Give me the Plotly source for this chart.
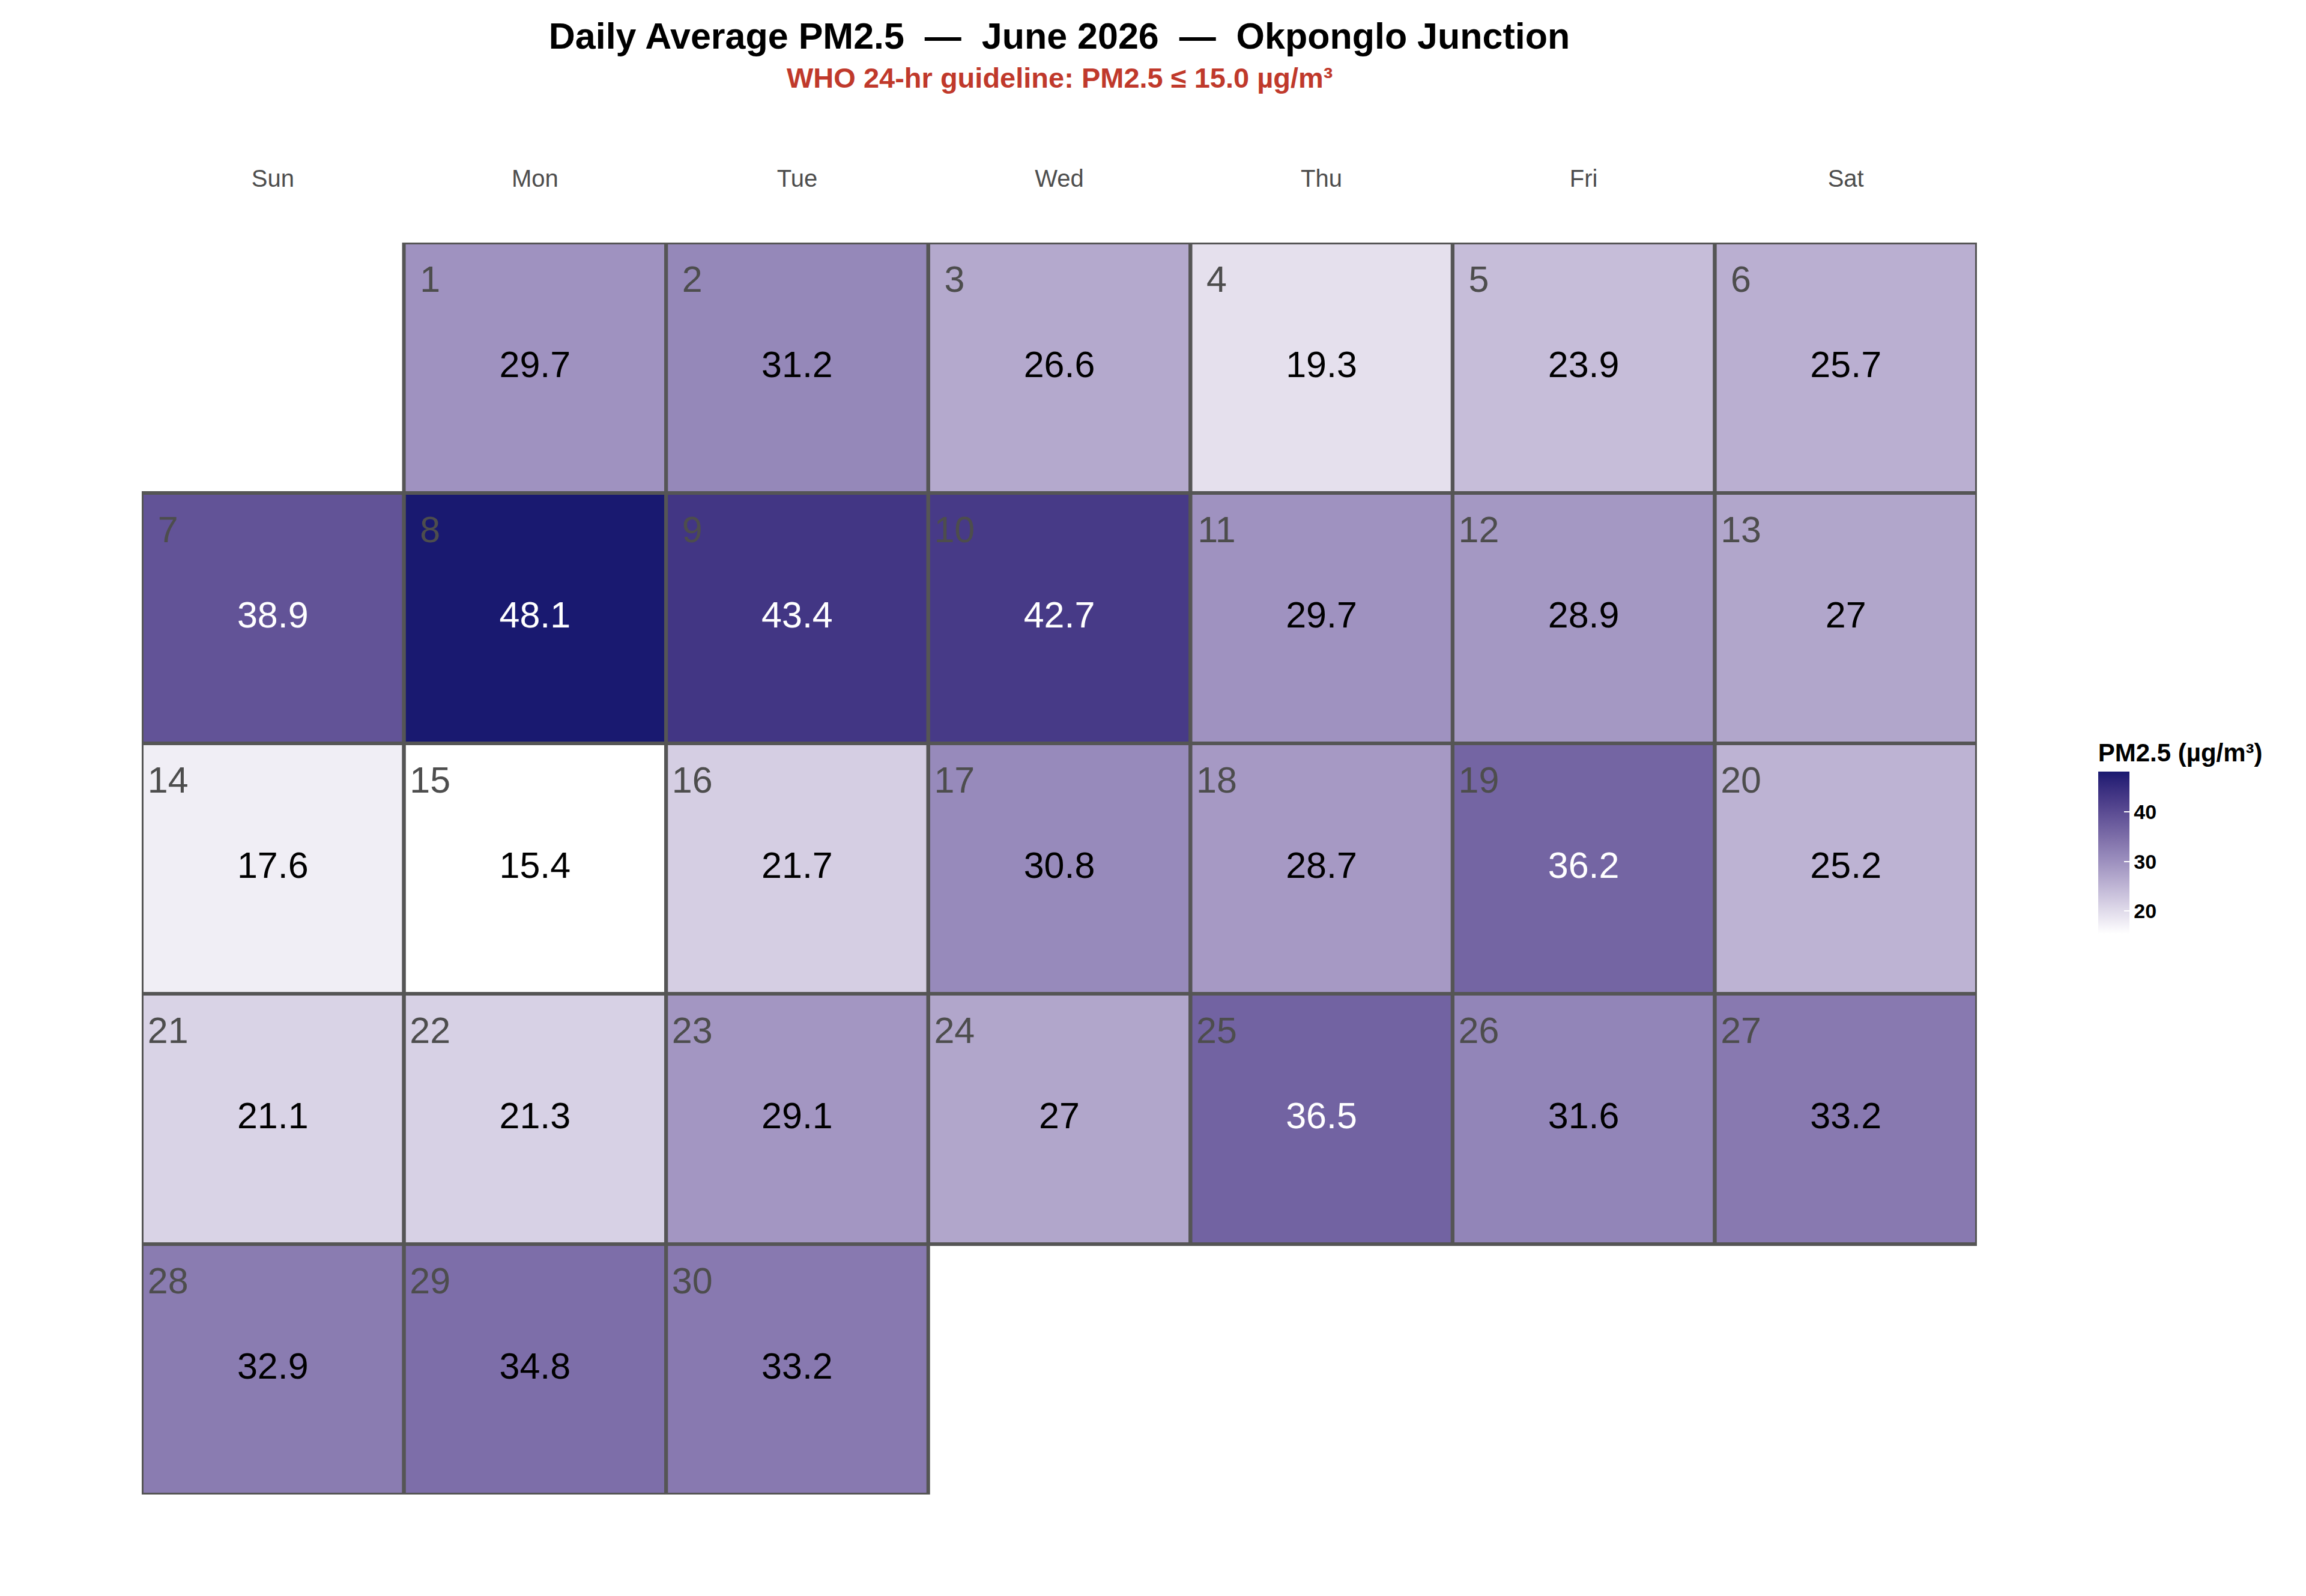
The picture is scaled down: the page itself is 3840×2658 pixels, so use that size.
import datetime
import plotly.graph_objects as go

# PM2.5 daily averages, June 2026
YEAR, MONTH = 2026, 6
days = list(range(1, 31))
pm25 = [29.7, 31.2, 26.6, 19.3, 23.9, 25.7,
        38.9, 48.1, 43.4, 42.7, 29.7, 28.9, 27.0,
        17.6, 15.4, 21.7, 30.8, 28.7, 36.2, 25.2,
        21.1, 21.3, 29.1, 27.0, 36.5, 31.6, 33.2,
        32.9, 34.8, 33.2]
weekday_labels = ["Sun", "Mon", "Tue", "Wed", "Thu", "Fri", "Sat"]
cbar_ticks = [20, 30, 40]

TITLE = "Daily Average PM2.5  \u2014  June 2026  \u2014  Okponglo Junction"
SUBTITLE = "WHO 24-hr guideline: PM2.5 \u2264 15.0 \u00b5g/m\u00b3"
FONT = "Liberation Sans, Arial, sans-serif"


# --- gradient white -> midnightblue, interpolated in Lab like ggplot
def hex_to_lab(h):
    rgb = [int(h[i:i + 2], 16) / 255 for i in (1, 3, 5)]
    lin = [c / 12.92 if c <= 0.04045 else ((c + 0.055) / 1.055) ** 2.4 for c in rgb]
    r, g, b = lin
    X = (0.4124 * r + 0.3576 * g + 0.1805 * b) / 0.95047
    Y = 0.2126 * r + 0.7152 * g + 0.0722 * b
    Z = (0.0193 * r + 0.1192 * g + 0.9505 * b) / 1.08883
    f = lambda t: t ** (1 / 3) if t > 0.008856 else 7.787 * t + 16 / 116
    fx, fy, fz = f(X), f(Y), f(Z)
    return 116 * fy - 16, 500 * (fx - fy), 200 * (fy - fz)


def lab_to_rgb(L, a, b):
    fy = (L + 16) / 116
    fx = fy + a / 500
    fz = fy - b / 200
    finv = lambda t: t ** 3 if t ** 3 > 0.008856 else (t - 16 / 116) / 7.787
    X, Y, Z = 0.95047 * finv(fx), finv(fy), 1.08883 * finv(fz)
    r = 3.2406 * X - 1.5372 * Y - 0.4986 * Z
    g = -0.9689 * X + 1.8758 * Y + 0.0415 * Z
    bb = 0.0557 * X - 0.2040 * Y + 1.0570 * Z
    out = []
    for c in (r, g, bb):
        c = max(0.0, min(1.0, c))
        c = 12.92 * c if c <= 0.0031308 else 1.055 * c ** (1 / 2.4) - 0.055
        out.append(round(c * 255))
    return "rgb({},{},{})".format(*out)


lo, hi = hex_to_lab("#FFFFFF"), hex_to_lab("#191970")
n_stops = 20
colorscale = []
for i in range(n_stops + 1):
    t = i / n_stops
    colorscale.append([t, lab_to_rgb(*[lo[k] + (hi[k] - lo[k]) * t for k in range(3)])])

# --- calendar positions
offset = (datetime.date(YEAR, MONTH, 1).weekday() + 1) % 7  # Sunday = 0
col = [(offset + d - 1) % 7 for d in days]
row = [(offset + d - 1) // 7 for d in days]
n_rows = max(row) + 1

z = [[None] * 7 for _ in range(n_rows)]
for c, r, v in zip(col, row, pm25):
    z[r][c] = v

fig = go.Figure()
fig.add_trace(go.Heatmap(
    x=list(range(7)), y=list(range(n_rows)), z=z,
    zmin=min(pm25), zmax=max(pm25),
    colorscale=colorscale,
    hoverongaps=False,
    colorbar=dict(
        title=dict(text="<b>PM2.5 (\u00b5g/m\u00b3)</b>", side="top",
                   font=dict(size=42, color="black", family=FONT)),
        x=1.066, xanchor="left", xref="paper",
        y=0.525, yanchor="middle",
        thickness=52, lenmode="pixels", len=322,
        outlinewidth=0, xpad=0, ypad=0,
        tickvals=cbar_ticks, ticktext=[f"<b>{t}</b>" for t in cbar_ticks],
        ticks="inside", ticklen=9, tickcolor="white", tickwidth=2,
        tickfont=dict(size=34, color="black", family=FONT),
    ),
))

# value labels
fig.add_trace(go.Scatter(
    x=col, y=row, mode="text",
    text=[f"{v:g}" for v in pm25],
    textposition="middle center",
    textfont=dict(size=61, family=FONT,
                  color=["white" if v > 35 else "black" for v in pm25]),
    hoverinfo="skip", showlegend=False,
))

# day numbers
fig.add_trace(go.Scatter(
    x=[c - 0.4 for c in col], y=[r - 0.34 for r in row], mode="text",
    text=[str(d) for d in days],
    textposition="middle center",
    textfont=dict(size=61, family=FONT, color="#4D4D4D"),
    hoverinfo="skip", showlegend=False,
))

# tile borders
for c, r in zip(col, row):
    fig.add_shape(type="rect", xref="x", yref="y",
                  x0=c - 0.5, x1=c + 0.5, y0=r - 0.5, y1=r + 0.5,
                  line=dict(color="#555555", width=6))

fig.add_annotation(
    text=f"<b>{SUBTITLE}</b>", xref="paper", yref="paper",
    x=0.5, y=1.1316, xanchor="center", yanchor="middle",
    showarrow=False, font=dict(size=47, color="#C0392B", family=FONT),
)

fig.update_layout(
    width=3840, height=2658,
    margin=dict(l=228, r=556, t=396, b=177, pad=0),
    paper_bgcolor="white", plot_bgcolor="white",
    font=dict(family=FONT),
    title=dict(text=f"<b>{TITLE}</b>", xref="paper", x=0.5, xanchor="center",
               y=1 - 52 / 2658, yanchor="middle",
               font=dict(size=61, color="black", family=FONT)),
    xaxis=dict(range=[-0.5, 6.5], side="top", tickvals=list(range(7)),
               ticktext=weekday_labels, showgrid=False, zeroline=False,
               showline=False, ticks="", ticklabelstandoff=84,
               tickfont=dict(size=40, color="#4D4D4D", family=FONT),
               fixedrange=True),
    yaxis=dict(range=[n_rows - 0.5, -0.5], visible=False, showgrid=False,
               zeroline=False, fixedrange=True),
)

fig.write_html("out.html")
